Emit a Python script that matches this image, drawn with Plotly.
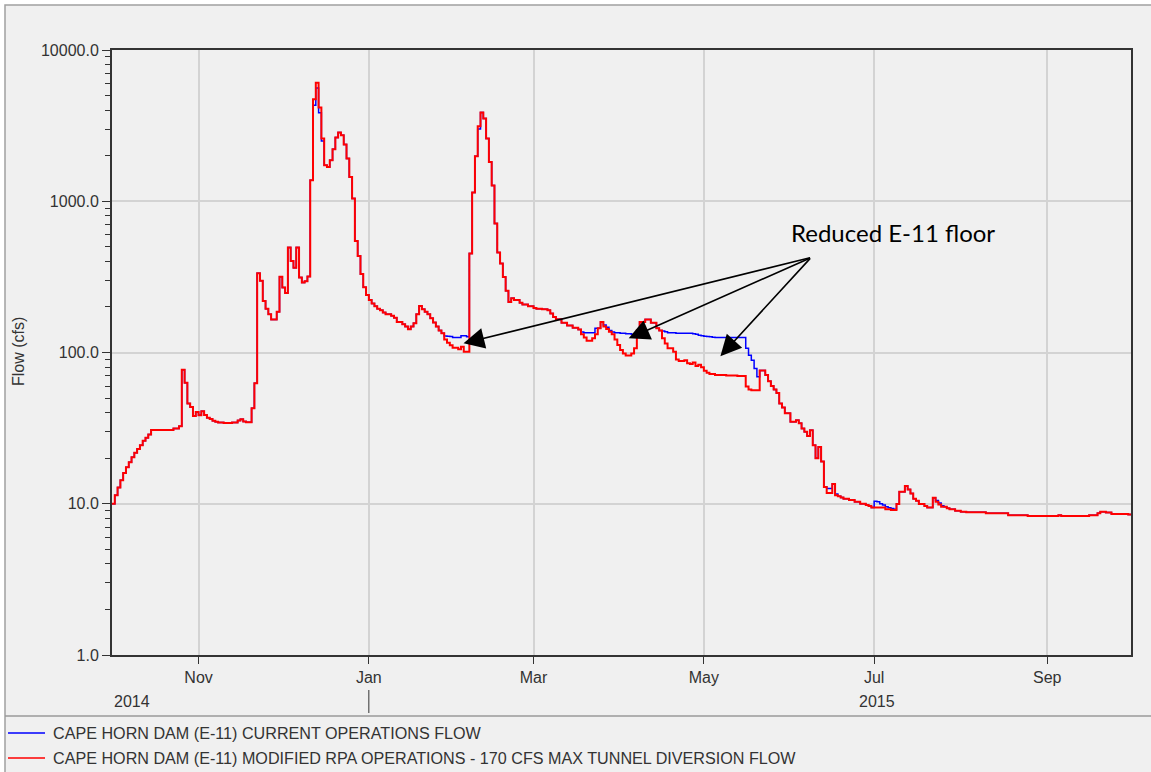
import numpy as np
import pandas as pd
import plotly.graph_objects as go

WY_START = pd.Timestamp("2014-10-01")
WY_END = pd.Timestamp("2015-10-01")

# Modified RPA operations (170 cfs max tunnel diversion): day of water year at which
# the daily flow steps to a new value, and that value in cfs
modified_day = [
    0, 1, 2, 3, 4, 5, 6, 7, 8, 9, 10, 11, 12, 13, 14, 22, 24, 25, 26, 27, 28, 29, 30,
    31, 32, 33, 34, 35, 36, 37, 38, 40, 43, 45, 46, 47, 48, 50, 51, 52, 53, 54, 55,
    56, 57, 59, 60, 61, 62, 63, 64, 65, 66, 67, 68, 69, 70, 71, 72, 73, 74, 75, 76, 77,
    78, 79, 80, 81, 82, 83, 84, 85, 86, 87, 88, 89, 90, 91, 92, 93, 94, 95, 96, 97,
    98, 100, 101, 102, 104, 105, 106, 107, 108, 109, 110, 111, 112, 113, 114, 115,
    116, 117, 118, 119, 120, 121, 122, 124, 125, 126, 128, 129, 130, 131, 132, 133,
    134, 135, 136, 137, 138, 139, 140, 141, 142, 143, 144, 146, 147, 149, 151, 152,
    154, 156, 157, 158, 159, 161, 163, 165, 167, 168, 169, 170, 172, 173, 174, 175,
    176, 177, 178, 179, 180, 181, 182, 183, 184, 186, 187, 188, 189, 191, 193, 195,
    196, 197, 198, 199, 201, 202, 203, 204, 205, 206, 207, 208, 209, 210, 211, 212,
    213, 214, 216, 220, 224, 227, 228, 229, 232, 234, 235, 236, 237, 238, 239, 240,
    241, 243, 245, 246, 247, 248, 249, 250, 251, 252, 253, 254, 255, 256, 258, 259,
    260, 261, 262, 264, 266, 268, 270, 271, 272, 277, 279, 281, 282, 284, 285,
    286, 287, 288, 289, 291, 292, 294, 295, 296, 297, 299, 300, 302, 304, 306, 313,
    321, 328, 339, 340, 350, 353, 354, 356, 358, 364,
]
modified_cfs = [
    10.0, 11.4, 12.8, 14.3, 16.0, 17.4, 18.8, 20.3, 21.7, 23.0, 24.4, 26.1, 27.3, 28.7,
    30.7, 31.5, 32.6, 77, 63, 46, 43.6, 38, 40.4, 38.5, 40.9, 38.6, 37, 36.4, 35.4,
    34.9, 34.4, 34.2, 34.5, 35.5, 36.2, 35.0, 34.6, 42.8, 62.6, 334, 298, 219, 195,
    179, 165, 186, 317, 269, 247, 495, 403, 364, 495, 313, 290, 296, 318, 1378, 4730,
    6065, 4170, 2600, 1733, 1687, 1870, 2210, 2640, 2850, 2735, 2372, 1918, 1449, 1043,
    547, 435, 330, 270, 240, 222, 211, 202, 195, 190, 184, 179, 175, 170, 159, 154,
    148.5, 142.5, 148.5, 156, 179, 203, 193, 186, 179, 168.6, 158, 148.5, 140, 134,
    122, 116, 111.5, 107.7, 105, 109, 101, 452, 1143, 1986, 3134, 3864, 3524, 2600,
    1820, 1271, 713, 459, 388, 316, 256, 216, 228, 222, 213, 208, 202, 197, 195, 193,
    190, 181, 172, 166, 157, 151, 146, 142, 132, 125.5, 119.5, 124, 132, 144.5, 159,
    148.5, 143, 137, 132, 122, 112, 104, 98.5, 95.5, 98.5, 106.5, 140, 159, 165, 157,
    144.5, 140, 124, 114.5, 106.5, 101, 90, 88, 87.7, 89, 85, 84, 86, 81.5, 83, 80,
    75.6, 73.5, 72, 71, 70.5, 70, 59.5, 57, 56.3, 76, 71, 64.5, 60, 57, 54, 46, 43.3,
    39.6, 34.8, 35.7, 34.1, 31.4, 29.9, 28.0, 30.6, 24.4, 20.0, 23.7, 19.0, 12.9,
    11.8, 13.5, 11.4, 11.2, 11.0, 10.8, 10.6, 10.3, 10.0, 9.8, 9.65, 9.45, 9.2, 9.1,
    9.95, 12.0, 13.1, 12.4, 11.7, 10.8, 10.45, 9.95, 9.65, 9.45, 10.97, 10.3, 9.9,
    9.55, 9.35, 9.2, 9.0, 8.87, 8.8, 8.65, 8.4, 8.3, 8.4, 8.3, 8.4, 8.65, 8.87, 8.75,
    8.57, 8.5,
]

# Current operations: days on which the flow differs from the modified run (cfs)
current_day = [
    72, 73, 74, 75, 119, 120, 121, 122, 123, 124, 125, 126, 127, 131, 168, 169, 170,
    171, 172, 173, 176, 177, 178, 179, 180, 181, 182, 183, 184, 185, 186, 187, 197,
    198, 199, 200, 201, 202, 203, 204, 205, 206, 207, 208, 209, 210, 211, 212, 213,
    214, 215, 216, 217, 218, 219, 220, 221, 222, 223, 224, 225, 226, 227, 228, 229,
    230, 231, 256, 257, 259, 273, 274, 275, 276, 277, 278, 279, 280, 295, 296, 297,
]
current_cfs = [
    4320, 5600, 3840, 2505, 128.7, 128, 127.5, 125.5, 125.5, 125.5, 129, 129, 127,
    3000, 136.6, 135, 135, 135, 135, 144.5, 152, 147, 140, 136.6, 135, 135, 134, 134,
    133, 133, 132, 132, 138.5, 137, 135, 135, 135, 134, 134, 134, 134, 134, 134, 133,
    132, 130, 129, 128, 127.5, 127, 126, 125.5, 125.5, 125.5, 125.5, 125.5, 125.5,
    125.5, 125.5, 125.5, 125.5, 125.5, 106.5, 96, 89, 78.5, 69, 12.6, 12.6, 11.6, 10.4,
    10.3, 10.0, 9.8, 9.55, 9.4, 9.3, 9.2, 10.5, 10.1, 9.7,
]

month_ticks = ["2014-11-01", "2015-01-01", "2015-03-01", "2015-05-01", "2015-07-01", "2015-09-01"]
month_labels = ["Nov", "Jan", "Mar", "May", "Jul", "Sep"]
flow_ticks = [1, 10, 100, 1000, 10000]
flow_labels = ["1.0", "10.0", "100.0", "1000.0", "10000.0"]

series_names = [
    "CAPE HORN DAM (E-11) CURRENT OPERATIONS FLOW",
    "CAPE HORN DAM (E-11) MODIFIED RPA OPERATIONS - 170 CFS MAX TUNNEL DIVERSION FLOW",
]
series_colors = ["#0000ff", "#ff0000"]

# Arrows pointing at the lowered floor flows
note_text = "Reduced E-11 floor"
arrow_tip_time = ["2015-02-03 22:00", "2015-04-04 02:00", "2015-05-06 22:00"]
arrow_tip_cfs = [115, 124, 94.6]

# Build daily step series
days = np.arange(0, 366)
modified = pd.Series(modified_cfs, index=modified_day, dtype=float).reindex(days).ffill()
current = modified.copy()
current.loc[current_day] = current_cfs
dates = WY_START + pd.to_timedelta(days, unit="D")

FONT = "Liberation Sans, Arial, sans-serif"
TXT = "#333333"

# Plot area placement in pixels (figure is 1151 x 772)
W, H = 1151, 772
L, R, T, B = 112, 20, 50, 117
PW, PH = W - L - R, H - T - B


def px_x(px):
    return (px - L) / PW


def px_y(py):
    return (H - B - py) / PH


fig = go.Figure()
fig.add_trace(go.Scatter(x=dates, y=current.values, mode="lines", line_shape="hv",
                         line=dict(color=series_colors[0], width=1.5),
                         name=series_names[0], showlegend=False))
fig.add_trace(go.Scatter(x=dates, y=modified.values, mode="lines", line_shape="hv",
                         line=dict(color=series_colors[1], width=2),
                         name=series_names[1], showlegend=False))

shapes = []
annotations = []

# Window panel and frame
shapes.append(dict(type="rect", xref="paper", yref="paper", layer="below",
                   x0=px_x(5), x1=px_x(W + 5), y0=px_y(5), y1=px_y(H + 5),
                   fillcolor="#f0f0f0", line=dict(color="#a0a0a0", width=1.5)))
# Legend box divider
shapes.append(dict(type="line", xref="paper", yref="paper",
                   x0=px_x(5), x1=px_x(W), y0=px_y(716), y1=px_y(716),
                   line=dict(color="#9a9a9a", width=1.5)))
# Year divider under January
shapes.append(dict(type="line", xref="x", yref="paper",
                   x0="2015-01-01", x1="2015-01-01", y0=px_y(690), y1=px_y(713),
                   line=dict(color=TXT, width=1)))

# Year labels
for label, cx in [("2014", 132), ("2015", 877)]:
    annotations.append(dict(text=label, xref="paper", yref="paper", x=px_x(cx), y=px_y(701),
                            showarrow=False, xanchor="center", yanchor="middle",
                            font=dict(family=FONT, size=16, color=TXT)))

# Y axis title
annotations.append(dict(text="Flow (cfs)", xref="paper", yref="paper", x=px_x(18), y=px_y(352),
                        textangle=-90, showarrow=False, xanchor="center", yanchor="middle",
                        font=dict(family=FONT, size=16, color=TXT)))

# Legend entries
for i, (name, color) in enumerate(zip(series_names, series_colors)):
    ly = 733 + 25 * i
    shapes.append(dict(type="line", xref="paper", yref="paper",
                       x0=px_x(8), x1=px_x(45), y0=px_y(ly), y1=px_y(ly),
                       line=dict(color=color, width=1.5)))
    annotations.append(dict(text=name, xref="paper", yref="paper", x=px_x(51), y=px_y(ly),
                            showarrow=False, xanchor="left", yanchor="middle",
                            font=dict(family=FONT, size=16.15, color=TXT)))

# Callout text and arrows
annotations.append(dict(text=note_text, xref="paper", yref="paper", x=px_x(893), y=px_y(233),
                        showarrow=False, xanchor="center", yanchor="middle",
                        font=dict(family="Lato, Carlito, sans-serif", size=24, color="#000000")))
tail_px = (811, 257)
tip_px = [(463, 343), (628, 338), (720, 356)]
for t, v, (tx, ty) in zip(arrow_tip_time, arrow_tip_cfs, tip_px):
    annotations.append(dict(x=t, y=np.log10(v), xref="x", yref="y", text="",
                            showarrow=True, arrowhead=2, arrowsize=2.6, arrowwidth=1.6,
                            arrowcolor="#000000", standoff=0,
                            ax=tail_px[0] - tx, ay=tail_px[1] - ty))

minor_vals = [m * 10 ** e for e in range(0, 4) for m in range(2, 10)]

fig.update_layout(
    width=W, height=H,
    margin=dict(l=L, r=R, t=T, b=B),
    paper_bgcolor="#ffffff",
    plot_bgcolor="#ffffff",
    font=dict(family=FONT, size=16, color=TXT),
    shapes=shapes,
    annotations=annotations,
    showlegend=False,
    xaxis=dict(
        type="date", range=[WY_START, WY_END],
        tickmode="array", tickvals=month_ticks, ticktext=month_labels,
        ticks="outside", ticklen=7, tickcolor=TXT, tickwidth=1,
        tickfont=dict(family=FONT, size=16, color=TXT),
        showgrid=True, gridcolor="#d3d3d3", gridwidth=1.5,
        showline=True, linecolor="#333333", linewidth=2, mirror=True,
        zeroline=False,
    ),
    yaxis=dict(
        type="log", range=[0, 4],
        tickmode="array", tickvals=flow_ticks, ticktext=flow_labels,
        ticks="outside", ticklen=8, tickcolor=TXT, tickwidth=1,
        tickfont=dict(family=FONT, size=16, color=TXT),
        minor=dict(tickmode="array", tickvals=minor_vals, ticks="outside", ticklen=5,
                   tickcolor=TXT, tickwidth=1, showgrid=False),
        showgrid=True, gridcolor="#d3d3d3", gridwidth=1.5,
        showline=True, linecolor="#333333", linewidth=2, mirror=True,
        zeroline=False,
    ),
)

fig.write_html("out.html")
